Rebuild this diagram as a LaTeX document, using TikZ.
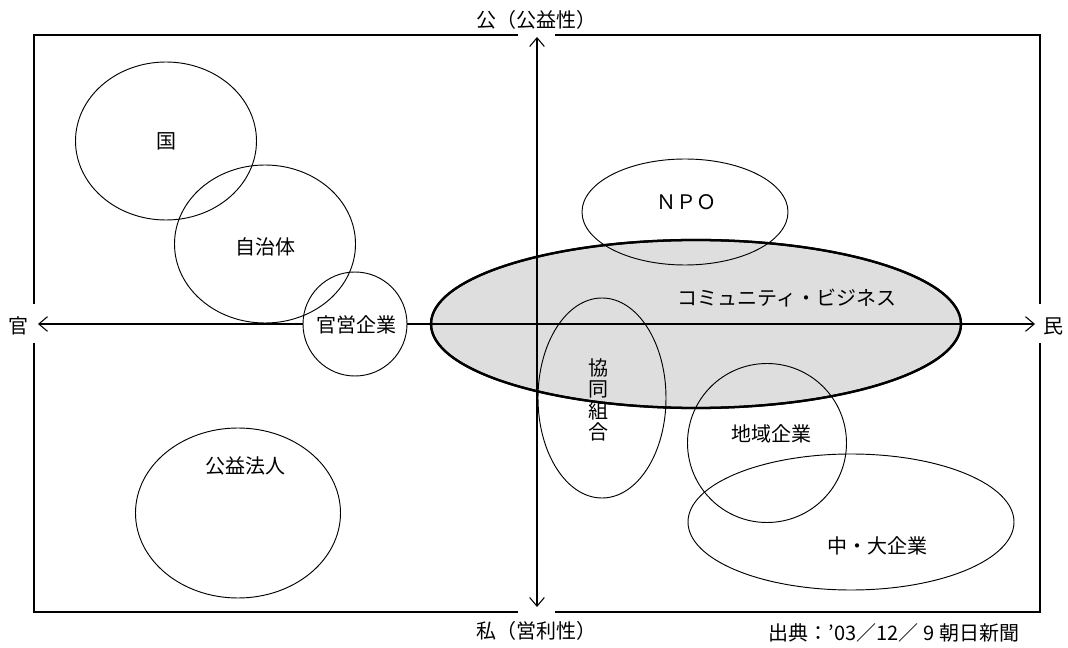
\documentclass[tikz,border=0pt]{standalone}
\usepackage{fontspec}
\setmainfont{Noto Sans CJK JP}
\usetikzlibrary{shapes.geometric,arrows.meta}
\begin{document}
\begin{tikzpicture}[x=0.75pt,y=-0.75pt,
  frameline/.style={line width=1.5pt},
  axisline/.style={line width=0.8pt,{Straight Barb[length=6.5pt,width=11pt]}-{Straight Barb[length=6.5pt,width=11pt]}},
  bubble/.style={ellipse,draw,line width=0.7pt,inner sep=0pt,outer sep=0pt},
  cbbubble/.style={ellipse,draw,line width=1.7pt,fill=gray!26,inner sep=0pt,outer sep=0pt},
  lbl/.style={font=\fontsize{15}{21}\selectfont,inner sep=0pt,align=center}]
\useasboundingbox (0,0) rectangle (1068,648);
% frame
\draw[frameline] (34,35) rectangle (1040,612);
\fill[white] (518,28) rectangle (555,42);
\fill[white] (518,605) rectangle (555,619);
\fill[white] (27,304) rectangle (41,343);
\fill[white] (1033,304) rectangle (1047,343);
% community business (filled, under axes)
\node[cbbubble,minimum width=397.5pt,minimum height=126pt] (cb) at (696,324) {};
% axes
\coordinate (L) at (38,324);
\coordinate (R) at (1035,324);
\coordinate (T) at (537,37);
\coordinate (B) at (537,607);
\draw[axisline] (L) -- (R);
\draw[axisline] (T) -- (B);
% public enterprise circle hides the axis
\node[bubble,fill=white,minimum width=78pt,minimum height=78pt] (kanei) at (355,324) {};
% outlines
\node[bubble,minimum width=135.75pt,minimum height=118.5pt] (kuni) at (166,141) {};
\node[bubble,minimum width=135.75pt,minimum height=118.5pt] (jichi) at (265,244) {};
\node[bubble,minimum width=153.75pt,minimum height=127.5pt] (koeki) at (238,513) {};
\node[bubble,minimum width=154.5pt,minimum height=79.5pt] (npo) at (685,212) {};
\node[bubble,minimum width=96pt,minimum height=150pt] (kyodo) at (602,398) {};
\node[bubble,minimum width=119.25pt,minimum height=119.25pt] (chiiki) at (767,443) {};
\node[bubble,minimum width=244.5pt,minimum height=102pt] (daikigyo) at (851,522) {};
\node[ellipse,draw,line width=1.7pt,inner sep=0pt,minimum width=397.5pt,minimum height=126pt] (cbline) at (696,324) {};
% labels
\node[lbl] (tkuni) at (166,141) {国};
\node[lbl] (tjichi) at (265,247) {自治体};
\node[lbl] (tkanei) at (356,325) {官営企業};
\node[lbl] (tkoeki) at (245,466) {公益法人};
\node[lbl] (tnpo) at (686,202) {ＮＰＯ};
\node[lbl] (tcb) at (787,298) {コミュニティ・ビジネス};
\node[lbl,font=\fontsize{15}{16}\selectfont] (tkyodo) at (598,400) {協\\同\\組\\合};
\node[lbl] (tchiiki) at (771,434) {地域企業};
\node[lbl] (tdai) at (877,546) {中・大企業};
\node[lbl] (tkan) at (18,326) {官};
\node[lbl] (tmin) at (1053,326) {民};
\node[lbl] (tko) at (536,20) {公（公益性）};
\node[lbl] (tshi) at (536,631) {私（営利性）};
\node[lbl] (tsrc) at (894,633) {出典：'03／12／ 9 朝日新聞};
\end{tikzpicture}
\end{document}
